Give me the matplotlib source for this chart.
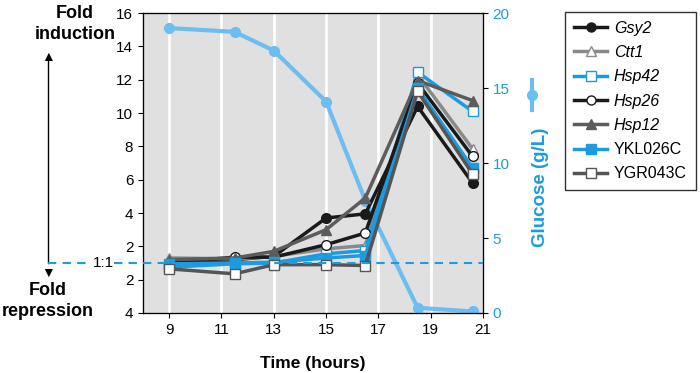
import matplotlib
matplotlib.use('Agg')
import matplotlib.pyplot as plt
from matplotlib.lines import Line2D

plt.rcParams['font.family'] = ['Liberation Sans', 'DejaVu Sans']

# time points (hours)
time = [9, 11.5, 13, 15, 16.5, 18.5, 20.6]

# glucose (g/L), right axis
glucose = [19.0, 18.75, 17.5, 14.1, 7.5, 0.35, 0.1]

# gene expression, in left-axis units (1 = 1:1, above = fold induction,
# below 1: 0 = 2-fold repression, -2 = 4-fold repression)
gsy2 = [0.85, 1.2, 1.4, 3.7, 3.95, 10.4, 5.8]
ctt1 = [1.3, 1.25, 1.4, 1.85, 2.05, 12.3, 7.85]
hsp42 = [0.75, 0.95, 1.0, 1.55, 1.75, 12.45, 10.1]
hsp26 = [1.0, 1.35, 1.35, 2.1, 2.8, 11.8, 7.4]
hsp12 = [1.2, 1.3, 1.7, 3.0, 4.9, 11.95, 10.75]
ykl026c = [0.95, 1.0, 1.05, 1.3, 1.45, 11.5, 6.7]
ygr043c = [0.65, 0.35, 0.9, 0.9, 0.85, 11.3, 6.35]

left_ticks = [-2, 0, 2, 4, 6, 8, 10, 12, 14, 16]
left_labels = ['4', '2', '2', '4', '6', '8', '10', '12', '14', '16']

blue = '#1c9be0'
lblue = '#6cbdf0'

fig = plt.figure(figsize=(7, 3.73), dpi=100)
ax = fig.add_axes([0.2043, 0.1609, 0.4857, 0.804])
ax.set_facecolor('#e0e0e0')
ax.set_xlim(8, 21)
ax.set_ylim(-2, 16)
for xv in [9, 11, 13, 15, 17, 19]:
    ax.axvline(xv, color='white', lw=2, zorder=0)

ax2 = ax.twinx()
ax2.set_ylim(0, 20)
ax2.plot(time, glucose, color=lblue, lw=3, marker='o', ms=7, zorder=1)
ax2.set_yticks([0, 5, 10, 15, 20])
ax2.tick_params(axis='y', colors='black', labelcolor=blue, labelsize=11)

# gene lines drawn on a third axes sharing the left scale, above the glucose line
ax3 = ax.twinx()
ax3.set_ylim(-2, 16)
ax3.set_yticks([])
ax3.patch.set_visible(False)

series = [
    ('Gsy2', gsy2, '#1a1a1a', 'o', '#1a1a1a', True),
    ('Ctt1', ctt1, '#8a8a8a', '^', 'white', True),
    ('Hsp42', hsp42, blue, 's', 'white', True),
    ('Hsp26', hsp26, '#1a1a1a', 'o', 'white', True),
    ('Hsp12', hsp12, '#5c5c5c', '^', '#5c5c5c', True),
    ('YKL026C', ykl026c, blue, 's', blue, False),
    ('YGR043C', ygr043c, '#555555', 's', 'white', False),
]
handles = []
for name, vals, col, mk, fc, ital in series:
    ax3.plot(time, vals, color=col, lw=2.5, marker=mk, ms=7, mfc=fc, mec=col, mew=1)
    handles.append(Line2D([], [], color=col, lw=2.5, marker=mk, ms=6.5, mfc=fc, mec=col, mew=1))

ax3.axhline(1, color=blue, lw=1.5, ls=(0, (4, 3)), zorder=5)

ax.set_xticks([9, 11, 13, 15, 17, 19, 21])
ax.set_yticks(left_ticks)
ax.set_yticklabels(left_labels)
ax.tick_params(labelsize=11)
ax.set_xlabel('Time (hours)', fontsize=12.5, fontweight='bold', labelpad=14)

ax2.set_ylabel('Glucose (g/L)', fontsize=13.5, fontweight='bold', color=blue)
ax2.yaxis.set_label_coords(1.144, 0.42)

leg = fig.legend(handles, [s[0] for s in series], loc='upper left',
                 bbox_to_anchor=(565 / 700, 1 - 12 / 373),
                 fontsize=11.5, frameon=True, fancybox=False, edgecolor='black',
                 handlelength=2.1, handletextpad=0.4, borderpad=0.55, labelspacing=0.58,
                 borderaxespad=0)
leg.get_frame().set_linewidth(1)
for t, s in zip(leg.get_texts(), series):
    if s[5]:
        t.set_style('italic')

# glucose legend mark beside the right axis label
fig.add_artist(Line2D([532 / 700, 532 / 700], [1 - 80 / 373, 1 - 110 / 373], color=lblue, lw=3))
fig.add_artist(Line2D([532 / 700], [1 - 95 / 373], color=lblue, marker='o', ms=7, lw=0))

# left annotations
fig.text(75 / 700, 1 - 24 / 373, 'Fold\ninduction', ha='center', va='center', fontsize=13,
         fontweight='bold', linespacing=1.25)
fig.text(48 / 700, 1 - 301 / 373, 'Fold\nrepression', ha='center', va='center', fontsize=13,
         fontweight='bold', linespacing=1.25)
fig.add_artist(Line2D([48 / 700, 48 / 700], [1 - 263 / 373, 1 - 60 / 373], color='black', lw=1))
fig.text(48 / 700, 1 - 57 / 373, '\u25b2', ha='center', va='center', fontsize=10)
fig.text(48 / 700, 1 - 273 / 373, '\u25bc', ha='center', va='center', fontsize=10)
fig.add_artist(Line2D([48 / 700, 90 / 700], [1 - 263 / 373, 1 - 263 / 373], color=blue,
                      lw=1.5, ls=(0, (4, 3))))
fig.add_artist(Line2D([114 / 700, 143 / 700], [1 - 263 / 373, 1 - 263 / 373], color=blue,
                      lw=1.5, ls=(0, (4, 3))))
fig.text(103 / 700, 1 - 263 / 373, '1:1', ha='center', va='center', fontsize=11)

fig.savefig('out.png', dpi=100)
